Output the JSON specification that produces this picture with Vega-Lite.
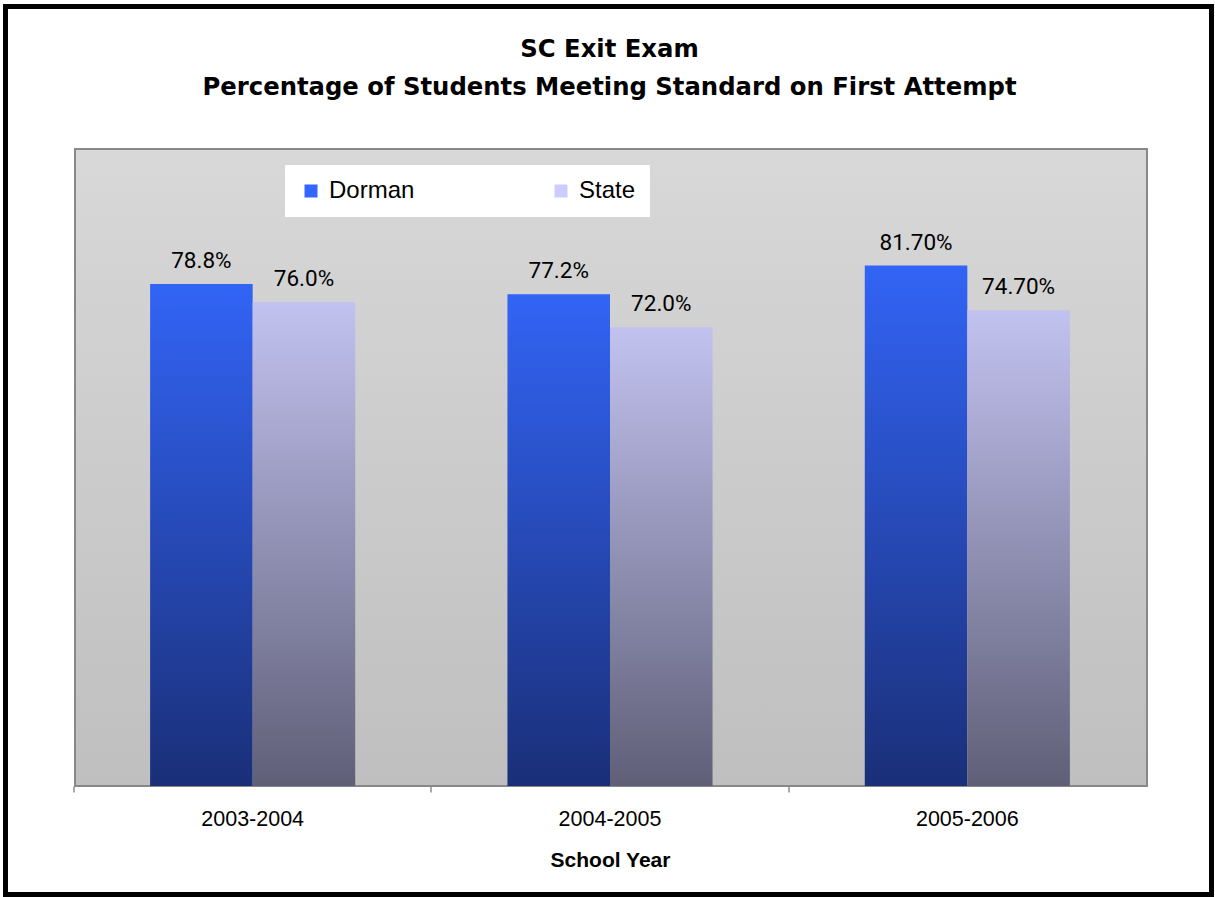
{
  "$schema": "https://vega.github.io/schema/vega-lite/v6.json",
  "width": 1206,
  "height": 888,
  "autosize": "none",
  "padding": {"left": 5.5, "top": 6.5, "right": 3.5, "bottom": 2.5},
  "background": "white",
  "title": {
    "text": ["SC Exit Exam", "Percentage of Students Meeting Standard on First Attempt"],
    "font": "DejaVu Sans",
    "fontWeight": "bold",
    "fontSize": 24.3,
    "lineHeight": 38.5,
    "anchor": "middle",
    "frame": "group",
    "baseline": "bottom",
    "offset": -118,
    "dx": 1,
    "color": "black"
  },
  "config": {
    "view": {"stroke": "black", "strokeWidth": 5, "fill": "white"}
  },
  "data": {
    "values": [
      {"year": "2003-2004", "series": "Dorman", "value": 78.8, "label": "78.8%"},
      {"year": "2003-2004", "series": "State", "value": 76.0, "label": "76.0%"},
      {"year": "2004-2005", "series": "Dorman", "value": 77.2, "label": "77.2%"},
      {"year": "2004-2005", "series": "State", "value": 72.0, "label": "72.0%"},
      {"year": "2005-2006", "series": "Dorman", "value": 81.7, "label": "81.70%"},
      {"year": "2005-2006", "series": "State", "value": 74.7, "label": "74.70%"}
    ]
  },
  "resolve": {"scale": {"x": "independent"}, "axis": {"x": "independent"}},
  "layer": [
    {
      "data": {"values": [{}]},
      "mark": {
        "type": "rect",
        "fill": {
          "gradient": "linear", "x1": 0, "y1": 0, "x2": 0, "y2": 1,
          "stops": [{"offset": 0, "color": "#d8d8d8"}, {"offset": 1, "color": "#bfbfbf"}]
        },
        "stroke": "#888888",
        "strokeWidth": 2
      },
      "encoding": {
        "x": {"datum": 0, "type": "quantitative", "scale": {"domain": [0, 1], "range": [69.5, 1141.5], "nice": false, "zero": false}, "axis": null},
        "x2": {"datum": 1},
        "y": {"datum": 0, "type": "quantitative", "scale": {"domain": [0, 100], "range": [779.5, 142.5], "nice": false}, "axis": null},
        "y2": {"datum": 100}
      }
    },
    {
      "encoding": {
        "x": {
          "field": "year",
          "type": "nominal",
          "scale": {"range": [68.5, 1140.5], "paddingInner": 0.426, "paddingOuter": 0.213},
          "axis": {
            "title": "School Year",
            "orient": "bottom",
            "offset": -108.5,
            "bandPosition": -0.3717,
            "domainColor": "#333333",
            "domainWidth": 1,
            "tickColor": "#555555",
            "tickSize": 6,
            "tickWidth": 1,
            "labelFont": "Liberation Sans",
            "labelFontSize": 21.5,
            "labelColor": "black",
            "labelPadding": 16,
            "labelAngle": 0,
            "titleFont": "Liberation Sans",
            "titleFontSize": 21,
            "titleFontWeight": "bold",
            "titleColor": "black",
            "titlePadding": 20,
            "grid": false
          }
        },
        "xOffset": {"field": "series", "type": "nominal", "scale": {"domain": ["Dorman", "State"], "paddingInner": 0, "paddingOuter": 0}},
        "y": {"field": "value", "type": "quantitative", "scale": {"domain": [0, 100], "range": [779.5, 142.5], "nice": false}, "axis": null}
      },
      "layer": [
        {
          "mark": {"type": "bar", "opacity": 0},
          "encoding": {
            "color": {
              "field": "series",
              "type": "nominal",
              "scale": {"domain": ["Dorman", "State"], "range": ["#3366ff", "#ccccff"]},
              "legend": {
                "orient": "none",
                "legendX": 279.5,
                "legendY": 158.5,
                "direction": "horizontal",
                "title": null,
                "fillColor": "white",
                "padding": 14,
                "symbolType": "square",
                "symbolSize": 169,
                "symbolOpacity": 1,
                "symbolStrokeWidth": 0,
                "labelFont": "Liberation Sans",
                "labelFontSize": 24,
                "labelColor": "black",
                "labelOffset": 6,
                "columnPadding": 134
              }
            }
          }
        },
        {
          "transform": [{"filter": "datum.series === 'Dorman'"}],
          "mark": {
            "type": "bar",
            "fill": {
              "gradient": "linear", "x1": 0, "y1": 0, "x2": 0, "y2": 1,
              "stops": [{"offset": 0, "color": "#3264f5"}, {"offset": 1, "color": "#1a2f78"}]
            }
          }
        },
        {
          "transform": [{"filter": "datum.series === 'State'"}],
          "mark": {
            "type": "bar",
            "fill": {
              "gradient": "linear", "x1": 0, "y1": 0, "x2": 0, "y2": 1,
              "stops": [{"offset": 0, "color": "#c2c2f0"}, {"offset": 1, "color": "#5f5f78"}]
            }
          }
        },
        {
          "mark": {"type": "text", "font": "Roboto", "fontSize": 22.5, "baseline": "alphabetic", "dy": -16, "color": "black"},
          "encoding": {"text": {"field": "label"}}
        }
      ]
    }
  ]
}
